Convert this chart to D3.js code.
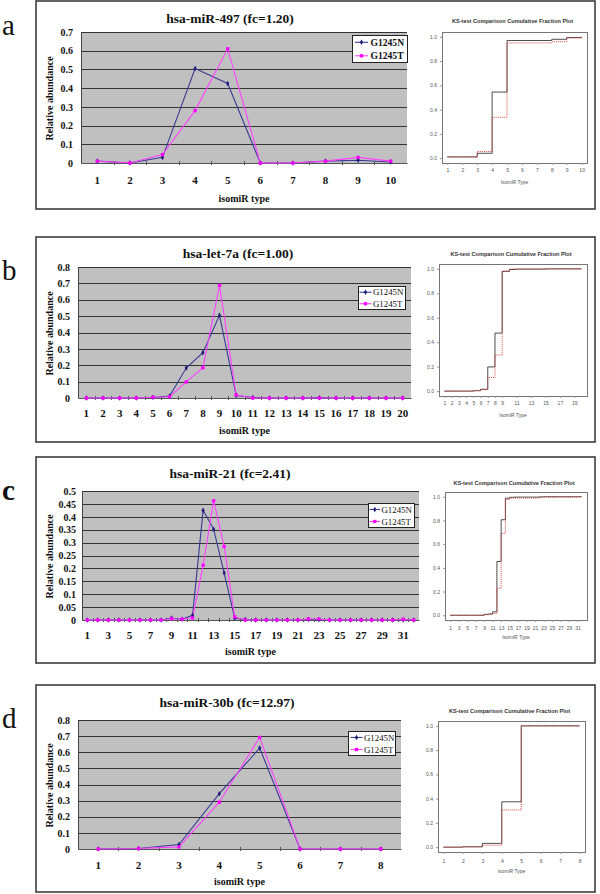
<!DOCTYPE html>
<html><head><meta charset="utf-8">
<script src="https://cdn.jsdelivr.net/npm/d3@7"></script>
<style>body{margin:0;background:#fff}svg{display:block}</style>
</head><body>
<svg id="fig" width="600" height="894"></svg>
<script>
// ---------------- DATA ----------------
const seriesNames = ["G1245N", "G1245T"];
const ksYTicks = [0.0, 0.2, 0.4, 0.6, 0.8, 1.0];

// a: hsa-miR-497
const titleA = "hsa-miR-497 (fc=1.20)";
const catsA = [1,2,3,4,5,6,7,8,9,10];
const nA = [0.010, 0.000, 0.030, 0.505, 0.425, 0.000, 0.000, 0.010, 0.015, 0.005];
const tA = [0.010, 0.000, 0.045, 0.280, 0.610, 0.000, 0.000, 0.010, 0.030, 0.010];
const yTicksA = [0, 0.1, 0.2, 0.3, 0.4, 0.5, 0.6, 0.7];
const xShownA = [1,2,3,4,5,6,7,8,9,10];
const ksTicksA = [1,2,3,4,5,6,7,8,9,10];

// b: hsa-let-7a
const titleB = "hsa-let-7a (fc=1.00)";
const catsB = [1,2,3,4,5,6,7,8,9,10,11,12,13,14,15,16,17,18,19,20];
const nB = [0,0,0,0,0.003,0.012,0.183,0.277,0.505,0.015,0.003,0,0,0,0.002,0,0,0,0,0];
const tB = [0,0,0,0,0.005,0.008,0.098,0.185,0.688,0.018,0,0,0,0,0,0,0,0,0,0];
const yTicksB = [0, 0.1, 0.2, 0.3, 0.4, 0.5, 0.6, 0.7, 0.8];
const xShownB = [1,2,3,4,5,6,7,8,9,10,11,12,13,14,15,16,17,18,19,20];
const ksTicksB = [1,2,3,4,5,6,7,8,9,11,13,15,17,19];

// c: hsa-miR-21
const titleC = "hsa-miR-21 (fc=2.41)";
const catsC = [1,2,3,4,5,6,7,8,9,10,11,12,13,14,15,16,17,18,19,20,21,22,23,24,25,26,27,28,29,30,31,32];
const nC = [0,0,0,0,0,0,0,0,0.008,0.003,0.018,0.425,0.352,0.182,0.007,0.002,0,0,0,0,0,0.002,0.001,0,0,0,0,0,0,0,0,0];
const tC = [0,0,0,0,0,0,0,0,0.005,0.003,0.008,0.212,0.462,0.285,0.012,0,0,0,0,0,0,0.004,0.004,0,0,0,0,0,0,0,0.003,0];
const yTicksC = [0, 0.05, 0.1, 0.15, 0.2, 0.25, 0.3, 0.35, 0.4, 0.45, 0.5];
const xShownC = [1,3,5,7,9,11,13,15,17,19,21,23,25,27,29,31];
const ksTicksC = [1,3,5,7,9,11,13,15,17,19,21,23,25,27,29,31];

// d: hsa-miR-30b
const titleD = "hsa-miR-30b (fc=12.97)";
const catsD = [1,2,3,4,5,6,7,8];
const nD = [0, 0.003, 0.028, 0.343, 0.626, 0, 0, 0];
const tD = [0, 0.003, 0.013, 0.290, 0.692, 0, 0, 0];
const yTicksD = [0, 0.1, 0.2, 0.3, 0.4, 0.5, 0.6, 0.7, 0.8];
const xShownD = [1,2,3,4,5,6,7,8];
const ksTicksD = [1,2,3,4,5,6,7,8];

// ---------------- LAYOUT ----------------
const panels = [
  { letter:"a", letterBold:false, letterY:35, title:titleA, cats:catsA, n:nA, t:tA, yTicks:yTicksA, xShown:xShownA, ksTicks:ksTicksA,
    box:[36,1,595,209], titleX:230, titleY:23, plot:[81,32,407,163], yPad:8, xLabY:184, xTitleY:201.5,
    legend:[352,35,407,62], legLine:[3,16], legText:18.5, legBold:true, legFs:9.6, ks:[442,32,587,163], ksTitleY:23, ksXLabY:172, ksXTitleY:184 },
  { letter:"b", letterBold:false, letterY:280, title:titleB, cats:catsB, n:nB, t:tB, yTicks:yTicksB, xShown:xShownB, ksTicks:ksTicksB,
    box:[36,237,595,442], titleX:238, titleY:258, plot:[78,267,411,398], yPad:8, xLabY:417, xTitleY:434,
    legend:[358,286,405,309], legLine:[1.5,13.5], legText:15, legBold:false, legFs:8.8, ks:[439,264,587,396], ksTitleY:256, ksXLabY:405, ksXTitleY:417 },
  { letter:"c", letterBold:true, letterY:500, title:titleC, cats:catsC, n:nC, t:tC, yTicks:yTicksC, xShown:xShownC, ksTicks:ksTicksC,
    box:[36,457,595,663], titleX:230, titleY:478, plot:[82,491,419,620], yPad:6, xLabY:639, xTitleY:655,
    legend:[368,503,414,527], legLine:[1.5,12], legText:13.5, legBold:false, legFs:8.8, ks:[445,492,587,620], ksTitleY:485, ksXLabY:630, ksXTitleY:639 },
  { letter:"d", letterBold:false, letterY:728, title:titleD, cats:catsD, n:nD, t:tD, yTicks:yTicksD, xShown:xShownD, ksTicks:ksTicksD,
    box:[36,685,595,892], titleX:227, titleY:707, plot:[78,720,401,849], yPad:8, xLabY:869, xTitleY:884.5,
    legend:[348,731,395,755], legLine:[2.5,14.5], legText:16, legBold:false, legFs:8.8, ks:[438,721,585,852], ksTitleY:713, ksXLabY:863, ksXTitleY:873 }
];

const serif = "'Liberation Serif','Times New Roman',serif";
const sans = "'Liberation Sans',Arial,sans-serif";
const colN = "#1f1f7a", colNLine = "#3a3a96";
const colT = "#ff00ff", colTLine = "#ff40ff";

const svg = d3.select("#fig");
svg.append("rect").attr("width",600).attr("height",894).attr("fill","#fff");

function drawPanel(P){
  const g = svg.append("g");
  const [bx0,by0,bx1,by1] = P.box;
  g.append("rect").attr("x",bx0).attr("y",by0).attr("width",bx1-bx0).attr("height",by1-by0)
    .attr("fill","none").attr("stroke","#3c3c3c").attr("stroke-width",1.6);
  g.append("text").attr("x",2).attr("y",P.letterY).text(P.letter)
    .style("font-family",serif).style("font-weight",P.letterBold?"bold":"normal").style("font-size","29px").attr("fill","#111");

  // ---------- Excel-style line chart ----------
  const [px0,py0,px1,py1] = P.plot;
  const yMax = P.yTicks[P.yTicks.length-1];
  const x = d3.scaleBand().domain(P.cats).range([px0,px1]);
  const y = d3.scaleLinear().domain([0,yMax]).range([py1,py0]);
  const cx = c => x(c) + x.bandwidth()/2;

  g.append("text").attr("x",P.titleX).attr("y",P.titleY).attr("text-anchor","middle")
    .style("font-family",serif).style("font-weight","bold").style("font-size","13.5px").attr("fill","#111").text(P.title);

  g.append("rect").attr("x",px0).attr("y",py0).attr("width",px1-px0).attr("height",py1-py0).attr("fill","#c0c0c0");
  g.append("g").selectAll("line").data(P.yTicks.filter(v=>v>0)).join("line")
    .attr("x1",px0).attr("x2",px1).attr("y1",v=>Math.round(y(v))+0.5).attr("y2",v=>Math.round(y(v))+0.5)
    .attr("stroke","#333").attr("stroke-width",1);

  const ya = g.append("g").attr("transform",`translate(${px0},0)`)
    .call(d3.axisLeft(y).tickValues(P.yTicks).tickSize(0).tickSizeOuter(0).tickPadding(P.yPad).tickFormat(v=>String(v)));
  ya.select(".domain").attr("stroke","#444");
  ya.selectAll("text").style("font-family",serif).style("font-weight","bold").style("font-size","10px").attr("fill","#111");

  const xa = g.append("g").attr("transform",`translate(0,${py1})`)
    .call(d3.axisBottom(x).tickSize(0).tickSizeOuter(0).tickFormat(c => P.xShown.includes(c) ? String(c) : ""));
  xa.select(".domain").attr("stroke","#555");
  xa.selectAll("text").attr("dy",null).attr("y",P.xLabY-py1)
    .style("font-family",serif).style("font-weight","bold").style("font-size","11px").attr("fill","#111");
  g.append("g").selectAll("line").data(P.cats.slice(1)).join("line")
    .attr("x1",c=>Math.round(x(c))+0.5).attr("x2",c=>Math.round(x(c))+0.5)
    .attr("y1",py1-2).attr("y2",py1+2).attr("stroke","#555");

  g.append("text").attr("x",(px0+px1)/2).attr("y",P.xTitleY).attr("text-anchor","middle")
    .style("font-family",serif).style("font-weight","bold").style("font-size","10px").attr("fill","#111").text("isomiR type");
  g.append("text").attr("transform",`translate(52.5,${(py0+py1)/2+1}) rotate(-90)`).attr("text-anchor","middle")
    .style("font-family",serif).style("font-weight","bold").style("font-size","10px").attr("fill","#111").text("Relative abundance");

  const line = d3.line().x((v,i)=>cx(P.cats[i])).y(v=>y(v));
  g.append("path").datum(P.n).attr("d",line).attr("fill","none").attr("stroke",colNLine).attr("stroke-width",1.1);
  g.append("path").datum(P.t).attr("d",line).attr("fill","none").attr("stroke",colTLine).attr("stroke-width",1.1);
  const diamond = d3.symbol(d3.symbolDiamond, 9)();
  const square = d3.symbol(d3.symbolSquare, 11)();
  g.append("g").selectAll("path").data(P.n).join("path").attr("d",diamond)
    .attr("transform",(v,i)=>`translate(${cx(P.cats[i])},${y(v)})`).attr("fill",colN);
  g.append("g").selectAll("path").data(P.t).join("path").attr("d",square)
    .attr("transform",(v,i)=>`translate(${cx(P.cats[i])},${y(v)})`).attr("fill",colT);

  // legend
  const [lx0,ly0,lx1,ly1] = P.legend;
  const lg = g.append("g");
  lg.append("rect").attr("x",lx0+0.5).attr("y",ly0+0.5).attr("width",lx1-lx0).attr("height",ly1-ly0)
    .attr("fill","#fff").attr("stroke","#222").attr("stroke-width",1);
  const lh = ly1-ly0;
  const rows = [ly0+lh*0.27, ly0+lh*0.77];
  seriesNames.forEach((s,k)=>{
    const ry = rows[k];
    lg.append("line").attr("x1",lx0+P.legLine[0]).attr("x2",lx0+P.legLine[1]).attr("y1",ry).attr("y2",ry)
      .attr("stroke",k===0?colNLine:colTLine).attr("stroke-width",1.1);
    lg.append("path").attr("d",k===0?diamond:square)
      .attr("transform",`translate(${lx0+(P.legLine[0]+P.legLine[1])/2},${ry})`).attr("fill",k===0?colN:colT);
    lg.append("text").attr("x",lx0+P.legText).attr("y",ry).attr("dy","0.35em").text(s)
      .style("font-family",serif).style("font-weight",P.legBold?"bold":"normal").style("font-size",P.legFs+"px").attr("fill","#111");
  });

  // ---------- KS cumulative fraction plot ----------
  const [kx0,ky0,kx1,ky1] = P.ks;
  const nCat = P.cats.length, span = nCat-1;
  const xk = d3.scaleLinear().domain([1-0.04*span, nCat+0.04*span]).range([kx0,kx1]);
  const yk = d3.scaleLinear().domain([-0.04,1.04]).range([ky1,ky0]);
  g.append("text").attr("x",(kx0+kx1)/2-2).attr("y",P.ksTitleY).attr("text-anchor","middle")
    .style("font-family",sans).style("font-weight","bold").style("font-size","5.6px").attr("fill","#333")
    .text("KS-test Comparison Cumulative Fraction Plot");
  g.append("rect").attr("x",kx0+0.5).attr("y",ky0+0.5).attr("width",kx1-kx0).attr("height",ky1-ky0)
    .attr("fill","#fff").attr("stroke","#777").attr("stroke-width",1);
  const kxa = g.append("g").attr("transform",`translate(0,${ky1})`)
    .call(d3.axisBottom(xk).tickValues(P.ksTicks).tickSize(2).tickSizeOuter(0).tickFormat(d3.format("d")));
  kxa.select(".domain").remove();
  kxa.selectAll("line").attr("stroke","#999");
  kxa.selectAll("text").attr("dy",null).attr("y",P.ksXLabY-ky1)
    .style("font-family",sans).style("font-size","5px").attr("fill","#555");
  const kya = g.append("g").attr("transform",`translate(${kx0},0)`)
    .call(d3.axisLeft(yk).tickValues(ksYTicks).tickSize(2).tickSizeOuter(0).tickPadding(3).tickFormat(d3.format(".1f")));
  kya.select(".domain").remove();
  kya.selectAll("line").attr("stroke","#999");
  kya.selectAll("text").style("font-family",sans).style("font-size","5px").attr("fill","#555");
  g.append("text").attr("x",(kx0+kx1)/2).attr("y",P.ksXTitleY).attr("text-anchor","middle")
    .style("font-family",sans).style("font-size","5px").attr("fill","#555").text("IsomiR Type");

  const ecdf = arr => { const tot = d3.sum(arr); return Array.from(d3.cumsum(arr), c => c/tot); };
  const step = d3.line().curve(d3.curveStepAfter).x((v,i)=>xk(P.cats[i])).y(v=>yk(v));
  g.append("path").datum(ecdf(P.n)).attr("d",step).attr("fill","none").attr("stroke","#3a3a3a").attr("stroke-width",0.9);
  g.append("path").datum(ecdf(P.t)).attr("d",step).attr("fill","none").attr("stroke","#d83030")
    .attr("stroke-width",0.9).attr("stroke-dasharray","1,1");
}

panels.forEach(drawPanel);
</script>
</body></html>
